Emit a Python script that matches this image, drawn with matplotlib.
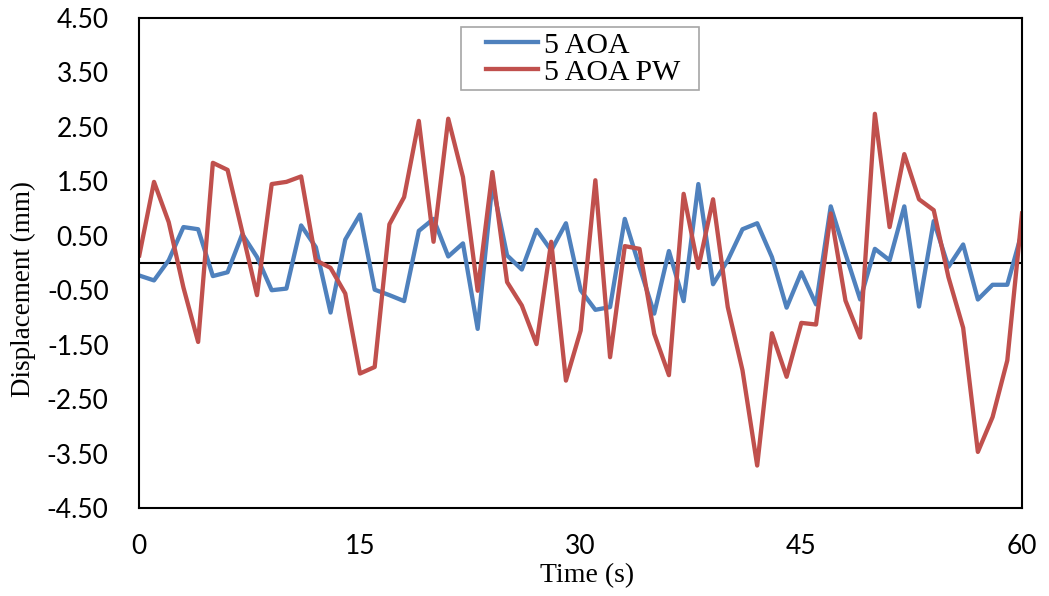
import numpy as np
import matplotlib
matplotlib.use("Agg")
import matplotlib.pyplot as plt
from matplotlib.patches import Rectangle

# time axis (one reading per second)
time_s = list(range(0, 61))

# 5 AOA displacement (mm)
aoa5 = [-0.23, -0.32, 0.05, 0.66, 0.62, -0.24, -0.17, 0.53, 0.11, -0.50,
        -0.47, 0.69, 0.29, -0.91, 0.43, 0.89, -0.49, -0.59, -0.70, 0.59,
        0.81, 0.12, 0.36, -1.21, 1.45, 0.14, -0.12, 0.61, 0.23, 0.73,
        -0.50, -0.86, -0.81, 0.81, -0.07, -0.93, 0.22, -0.70, 1.45, -0.39,
        0.05, 0.62, 0.73, 0.11, -0.82, -0.17, -0.76, 1.04, 0.17, -0.67,
        0.26, 0.05, 1.04, -0.80, 0.77, -0.07, 0.34, -0.67, -0.40, -0.40,
        0.57]

# 5 AOA PW displacement (mm)
aoa5_pw = [0.14, 1.49, 0.75, -0.45, -1.45, 1.84, 1.71, 0.57, -0.59, 1.45,
           1.49, 1.59, 0.05, -0.09, -0.56, -2.03, -1.91, 0.71, 1.21, 2.61,
           0.39, 2.65, 1.58, -0.51, 1.67, -0.35, -0.78, -1.49, 0.39, -2.16,
           -1.24, 1.52, -1.73, 0.31, 0.26, -1.30, -2.06, 1.27, -0.09, 1.17,
           -0.81, -1.97, -3.72, -1.29, -2.09, -1.10, -1.13, 0.91, -0.69, -1.37,
           2.74, 0.66, 2.00, 1.17, 0.97, -0.26, -1.19, -3.47, -2.83, -1.79,
           0.91]

x_ticks = [0, 15, 30, 45, 60]
y_ticks = np.arange(-4.5, 4.51, 1.0)

W, H = 1049, 596
fig = plt.figure(figsize=(W / 100, H / 100), dpi=100)
ax = fig.add_axes([139.3 / W, 1 - 508 / H, (1022 - 139.3) / W, (508 - 18) / H])

ax.plot(time_s, aoa5, color="#4F81BD", lw=3.1, label="5 AOA",
        solid_joinstyle="round")
ax.plot(time_s, aoa5_pw, color="#C0504D", lw=3.1, label="5 AOA PW",
        solid_joinstyle="round")
ax.axhline(0, color="black", lw=1.5, zorder=1)

ax.set_xlim(0, 60)
ax.set_ylim(-4.5, 4.5)
ax.set_xticks(x_ticks)
ax.set_yticks(y_ticks)
ax.set_yticklabels(["%.2f" % v for v in y_ticks])
ax.tick_params(length=0, labelsize=19)
ax.tick_params(axis="y", pad=22)
ax.tick_params(axis="x", pad=19)
for lab in ax.get_xticklabels() + ax.get_yticklabels():
    lab.set_fontfamily("Lato")
for sp in ax.spines.values():
    sp.set_linewidth(1.5)
    sp.set_color("black")

fig.text(23 / W, 1 - 289 / H, "Displacement (mm)", rotation=90,
         ha="center", va="center", family="Liberation Serif", fontsize=19.5)
fig.text(587 / W, 1 - 576 / H, "Time (s)", ha="center", va="center",
         family="Liberation Serif", fontsize=20)

leg = ax.legend(loc="upper left", bbox_to_anchor=(486 / W, 1 - 32 / H),
                bbox_transform=fig.transFigure, frameon=False,
                borderpad=0, borderaxespad=0, labelspacing=0,
                handlelength=1.75, handletextpad=0.2,
                prop={"family": "Liberation Serif", "size": 21.5})
fig.add_artist(Rectangle((461 / W, 1 - 90 / H), (699 - 461) / W, (90 - 27) / H,
                         transform=fig.transFigure, fill=False,
                         edgecolor="#A6A6A6", lw=1.2))

fig.savefig("out.png", dpi=100)
